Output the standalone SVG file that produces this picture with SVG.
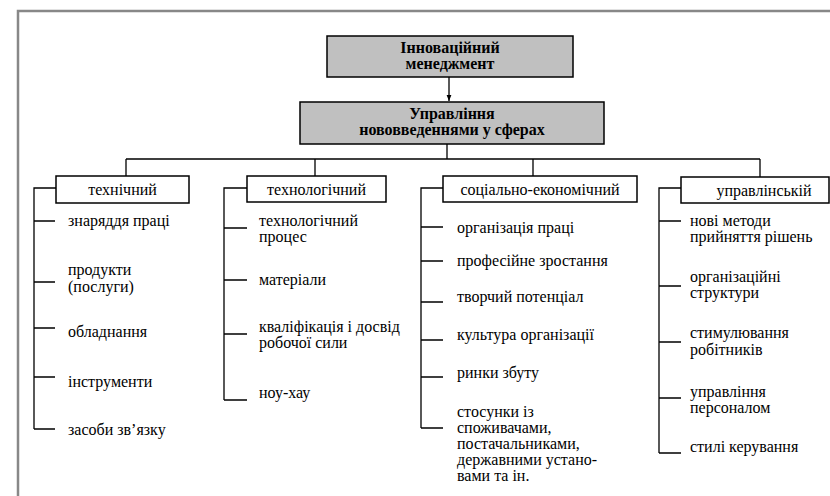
<svg xmlns="http://www.w3.org/2000/svg" width="830" height="496" viewBox="0 0 830 496">
<style>
.frame{fill:none;stroke:#888;stroke-width:2.5}
.head{fill:#c0c0c0;stroke:#000;stroke-width:1.5}
.cat{fill:#fff;stroke:#000;stroke-width:1.5}
.ln{fill:none;stroke:#000;stroke-width:1.3}
.ht{font-weight:bold;font-size:16px;text-anchor:middle}
.ct{font-size:16px;text-anchor:middle}
.it{font-size:16px}
</style>
<defs>
<marker id="arr" viewBox="0 0 10 10" refX="10" refY="5" markerWidth="6" markerHeight="8" orient="auto" markerUnits="userSpaceOnUse">
<path d="M0,1 L10,5 L0,9 z" fill="#000"/>
</marker>
</defs>
<rect width="830" height="496" fill="#fff"/>
<path class="frame" d="M18,497 V11 H831"/>

<g id="connectors">
<line class="ln" x1="449" y1="77" x2="449" y2="101" marker-end="url(#arr)"/>
<path class="ln" d="M447,144 V159 M126,159 H760 M126,159 V176 M315,159 V176 M533,159 V176 M760,159 V177"/>
<path class="ln" d="M56,188 H34 V429 M34,221 H55 M34,282 H55 M34,328 H55 M34,377 H55 M34,429 H55"/>
<path class="ln" d="M247,188 H224 V400 M224,228 H247 M224,280 H247 M224,334 H247 M224,400 H247"/>
<path class="ln" d="M443,188 H421 V428 M421,227 H443 M421,261 H443 M421,302 H443 M421,340 H443 M421,377 H443 M421,428 H443"/>
<path class="ln" d="M681,188 H659 V453 M659,221 H681 M659,286 H681 M659,342 H681 M659,398 H681 M659,453 H681"/>
</g>

<g font-family="Liberation Serif, serif" fill="#000">
<g id="n-innov">
<rect class="head" x="327" y="36" width="246" height="41"/>
<text class="ht" x="450" y="52.5">Інноваційний</text>
<text class="ht" x="450" y="68.5">менеджмент</text>
</g>
<g id="n-upr">
<rect class="head" x="300" y="102" width="304" height="42"/>
<text class="ht" x="452" y="118.5">Управління</text>
<text class="ht" x="452" y="134.5">нововведеннями у сферах</text>
</g>

<g id="c-tech">
<rect class="cat" x="56" y="176" width="133" height="27"/>
<text class="ct" x="122.5" y="194.5">технічний</text>
</g>
<g id="c-techn">
<rect class="cat" x="247" y="176" width="139" height="26"/>
<text class="ct" x="316.5" y="194.5">технологічний</text>
</g>
<g id="c-soc">
<rect class="cat" x="443" y="176" width="194" height="26"/>
<text class="ct" x="540" y="194.5">соціально-економічний</text>
</g>
<g id="c-man">
<rect class="cat" x="681" y="177" width="148" height="26"/>
<text class="ct" x="764" y="195.5">управлінській</text>
</g>

<g id="items-tech">
<text class="it" x="68" y="226">знаряддя праці</text>
<text class="it" x="68" y="275">продукти</text>
<text class="it" x="68" y="292">(послуги)</text>
<text class="it" x="68" y="337">обладнання</text>
<text class="it" x="68" y="387">інструменти</text>
<text class="it" x="68" y="435">засоби зв’язку</text>
</g>
<g id="items-techn">
<text class="it" x="259" y="225.5">технологічний</text>
<text class="it" x="259" y="241.5">процес</text>
<text class="it" x="259" y="285">матеріали</text>
<text class="it" x="259" y="332">кваліфікація і досвід</text>
<text class="it" x="259" y="348">робочої сили</text>
<text class="it" x="259" y="398">ноу-хау</text>
</g>
<g id="items-soc">
<text class="it" x="457" y="233">організація праці</text>
<text class="it" x="457" y="266">професійне зростання</text>
<text class="it" x="457" y="302">творчий потенціал</text>
<text class="it" x="457" y="340">культура організації</text>
<text class="it" x="457" y="378">ринки збуту</text>
<text class="it" x="457" y="417">стосунки із</text>
<text class="it" x="457" y="433">споживачами,</text>
<text class="it" x="457" y="449">постачальниками,</text>
<text class="it" x="457" y="465">державними устано-</text>
<text class="it" x="457" y="481">вами та ін.</text>
</g>
<g id="items-man">
<text class="it" x="690" y="225.5">нові методи</text>
<text class="it" x="690" y="241.5">прийняття рішень</text>
<text class="it" x="690" y="281.5">організаційні</text>
<text class="it" x="690" y="297.5">структури</text>
<text class="it" x="690" y="338">стимулювання</text>
<text class="it" x="690" y="355">робітників</text>
<text class="it" x="690" y="396.5">управління</text>
<text class="it" x="690" y="412.5">персоналом</text>
<text class="it" x="690" y="452">стилі керування</text>
</g>
</g>
</svg>
